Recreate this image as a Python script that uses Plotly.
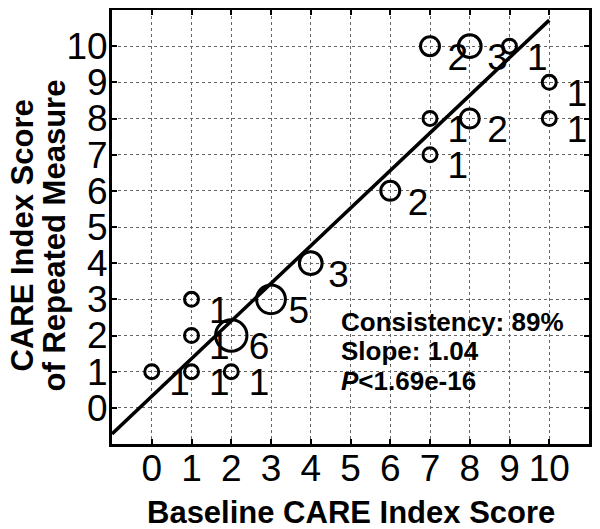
import numpy as np
import plotly.graph_objects as go

# baseline score, repeated score, number of subjects at that pair
baseline = [0, 1, 1, 1, 2, 2, 3, 4, 6, 7, 7, 8, 7, 8, 9, 10, 10]
repeated = [1, 1, 2, 3, 1, 2, 3, 4, 6, 7, 8, 8, 10, 10, 10, 9, 8]
counts = [1, 1, 1, 1, 1, 6, 5, 3, 2, 1, 1, 2, 2, 3, 1, 1, 1]

fit_slope = 1.04
fit_intercept = 0.32
fit_x = [-1, 10]

tick_vals = list(range(0, 11))
stats_lines = ['Consistency: 89%', 'Slope: 1.04', '<i>P</i>&lt;1.69e-16']

font_name = 'Liberation Sans, Arial, sans-serif'

fig = go.Figure()

# fitted line
fig.add_trace(go.Scatter(
    x=fit_x,
    y=[fit_slope * v + fit_intercept for v in fit_x],
    mode='lines',
    line=dict(color='black', width=3.5),
    hoverinfo='skip'))

# circles, size grows with count
fig.add_trace(go.Scatter(
    x=baseline,
    y=repeated,
    mode='markers',
    marker=dict(symbol='circle-open',
                size=[2 + 12 * np.sqrt(c) for c in counts],
                color='black',
                opacity=1,
                line=dict(color='black', width=3)),
    hovertemplate='Baseline: %{x}<br>Repeated: %{y}<extra></extra>'))

# count labels to the lower right of each circle
fig.add_trace(go.Scatter(
    x=[b + 0.7 for b in baseline],
    y=[r - 0.4 for r in repeated],
    mode='text',
    text=[str(c) for c in counts],
    textfont=dict(family=font_name, size=37, color='black'),
    hoverinfo='skip',
    cliponaxis=False))

axisStyle = dict(
    range=[-1, 11],
    tickvals=tick_vals,
    ticktext=[str(v) for v in tick_vals],
    tickangle=0,
    ticks='inside',
    ticklen=5,
    tickwidth=2,
    tickcolor='black',
    showline=True,
    linewidth=3,
    linecolor='black',
    mirror='ticks',
    showgrid=True,
    gridcolor='#666666',
    griddash='dot',
    gridwidth=1,
    zeroline=False,
    automargin=False,
    tickfont=dict(family=font_name, size=37, color='black'),
    fixedrange=True,
)

# page body adds an 8px margin, so the figure is drawn 8px smaller and shifted
fig.update_layout(
    width=592,
    height=521,
    showlegend=False,
    plot_bgcolor='white',
    paper_bgcolor='white',
    margin=dict(l=104, r=11, t=2, b=85),
    xaxis=dict(axisStyle, ticklabelstandoff=-10),
    yaxis=dict(axisStyle, ticklabelstandoff=-6),
)

# axis titles
fig.add_annotation(text='<b>Baseline CARE Index Score</b>', xref='paper', yref='paper',
                   x=0.5, y=-0.158, xanchor='center', yanchor='middle', showarrow=False,
                   font=dict(family=font_name, size=31, color='black'))
fig.add_annotation(text='<b>CARE Index Score</b>', xref='paper', yref='paper',
                   x=-0.187, y=0.48, textangle=-90, xanchor='center', yanchor='middle',
                   showarrow=False, font=dict(family=font_name, size=31, color='black'))
fig.add_annotation(text='<b>of Repeated Measure</b>', xref='paper', yref='paper',
                   x=-0.12, y=0.48, textangle=-90, xanchor='center', yanchor='middle',
                   showarrow=False, font=dict(family=font_name, size=31, color='black'))

# stats box text
for i, line in enumerate(stats_lines):
    fig.add_annotation(text='<b>' + line + '</b>', xref='x', yref='y',
                       x=4.72, y=2.37 - 0.81 * i, xanchor='left', yanchor='middle',
                       showarrow=False, font=dict(family=font_name, size=26, color='black'))

fig.write_html("out.html")
